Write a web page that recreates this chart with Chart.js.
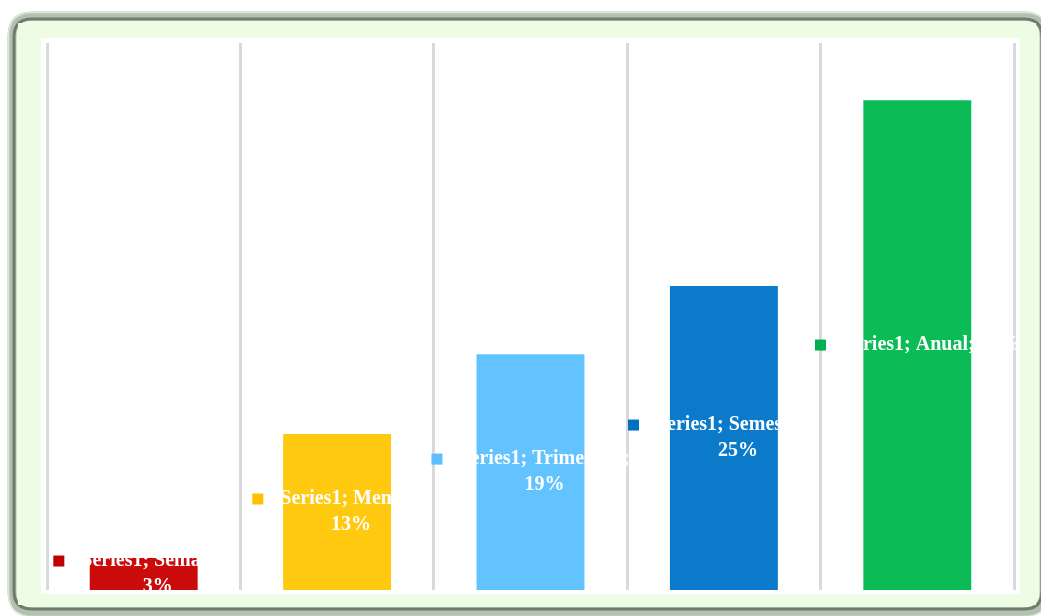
<!DOCTYPE html>
<html>
<head>
<meta charset="utf-8">
<script src="https://cdn.jsdelivr.net/npm/chart.js"></script>
<style>
  html, body { margin: 0; padding: 0; background: #fff; }
  #wrap { width: 1041px; height: 616px; }
</style>
</head>
<body>
<div id="wrap"><canvas id="myChart" width="1041" height="616"></canvas></div>
<script>
// Data
const seriesName = 'Series1';
const categories = ['Semanal', 'Mensal', 'Trimestral', 'Semestral', 'Anual'];
const values = [2.63, 12.83, 19.4, 25.0, 40.3];
const barColors = ['#CB0B0B', '#FFC90F', '#62C3FE', '#0B7ACB', '#0BBB56'];
const keyColors = ['#C00000', '#FFC000', '#5DBEFF', '#0070C0', '#00B050'];
const yMax = 45;

function roundRect(c, x, y, w, h, r) {
  c.beginPath();
  c.moveTo(x + r, y);
  c.lineTo(x + w - r, y);
  c.quadraticCurveTo(x + w, y, x + w, y + r);
  c.lineTo(x + w, y + h - r);
  c.quadraticCurveTo(x + w, y + h, x + w - r, y + h);
  c.lineTo(x + r, y + h);
  c.quadraticCurveTo(x, y + h, x, y + h - r);
  c.lineTo(x, y + r);
  c.quadraticCurveTo(x, y, x + r, y);
  c.closePath();
}

// Frame behind the chart
const framePlugin = {
  id: 'frame',
  beforeDraw(chart) {
    const c = chart.ctx;
    c.save();
    c.fillStyle = '#ffffff';
    c.fillRect(0, 0, chart.width, chart.height);
    roundRect(c, 8, 12, 1040, 604, 24);
    c.fillStyle = '#EEFBE5';
    c.fill();
    c.lineWidth = 9;
    c.strokeStyle = '#b3c1b0';
    roundRect(c, 12, 16, 1032, 596, 20);
    c.stroke();
    c.lineWidth = 3;
    c.strokeStyle = '#6f7d6d';
    roundRect(c, 14, 19, 1028, 590, 18);
    c.stroke();
    c.lineWidth = 1.5;
    c.strokeStyle = '#dde9d7';
    roundRect(c, 8.5, 12.5, 1040, 604, 24);
    c.stroke();
    c.fillStyle = '#EEFBE5';
    c.fillRect(18, 23, 1018, 582);
    c.fillStyle = '#ffffff';
    c.fillRect(41, 38, 979, 556);
    c.restore();
  }
};

// Data labels with legend key
const labelPlugin = {
  id: 'barLabels',
  afterDatasetsDraw(chart) {
    const c = chart.ctx;
    const area = chart.chartArea;
    const meta = chart.getDatasetMeta(0);
    c.save();
    c.beginPath();
    c.rect(0, 0, chart.width, area.bottom);
    c.clip();
    c.font = 'bold 20px "Liberation Serif", "Times New Roman", serif';
    c.textAlign = 'center';
    c.textBaseline = 'middle';
    meta.data.forEach(function (bar, i) {
      const pct = Math.round(values[i]) + '%';
      const full = seriesName + '; ' + categories[i] + '; ' + pct;
      let lines = [full];
      if (c.measureText(full).width > 180) {
        lines = [seriesName + '; ' + categories[i] + ';', pct];
      }
      const textW = Math.max.apply(null, lines.map(l => c.measureText(l).width));
      const keySize = 11, gap = 17, lh = 26;
      const total = keySize + gap + textW;
      const left = bar.x - total / 2;
      const cy = (bar.y + bar.base) / 2;
      const firstY = cy - (lines.length - 1) * lh / 2;
      c.fillStyle = keyColors[i];
      c.fillRect(left, firstY - keySize / 2, keySize, keySize);
      c.fillStyle = '#ffffff';
      lines.forEach(function (l, j) {
        c.fillText(l, left + keySize + gap + textW / 2, firstY + j * lh);
      });
    });
    c.restore();
  }
};

const ctx = document.getElementById('myChart');
new Chart(ctx, {
  type: 'bar',
  data: {
    labels: categories,
    datasets: [{
      label: seriesName,
      data: values,
      backgroundColor: barColors,
      borderWidth: 0,
      categoryPercentage: 1,
      barPercentage: 0.558
    }]
  },
  options: {
    responsive: false,
    animation: false,
    layout: { padding: { left: 47, right: 27, top: 43, bottom: 26 } },
    plugins: { legend: { display: false }, tooltip: { enabled: false } },
    scales: {
      x: {
        display: true,
        grid: { display: true, offset: true, color: '#d9d9d9', lineWidth: 3, drawTicks: false },
        border: { display: false },
        ticks: { display: false }
      },
      y: {
        display: false,
        min: 0,
        max: yMax
      }
    }
  },
  plugins: [framePlugin, labelPlugin]
});
</script>
</body>
</html>
